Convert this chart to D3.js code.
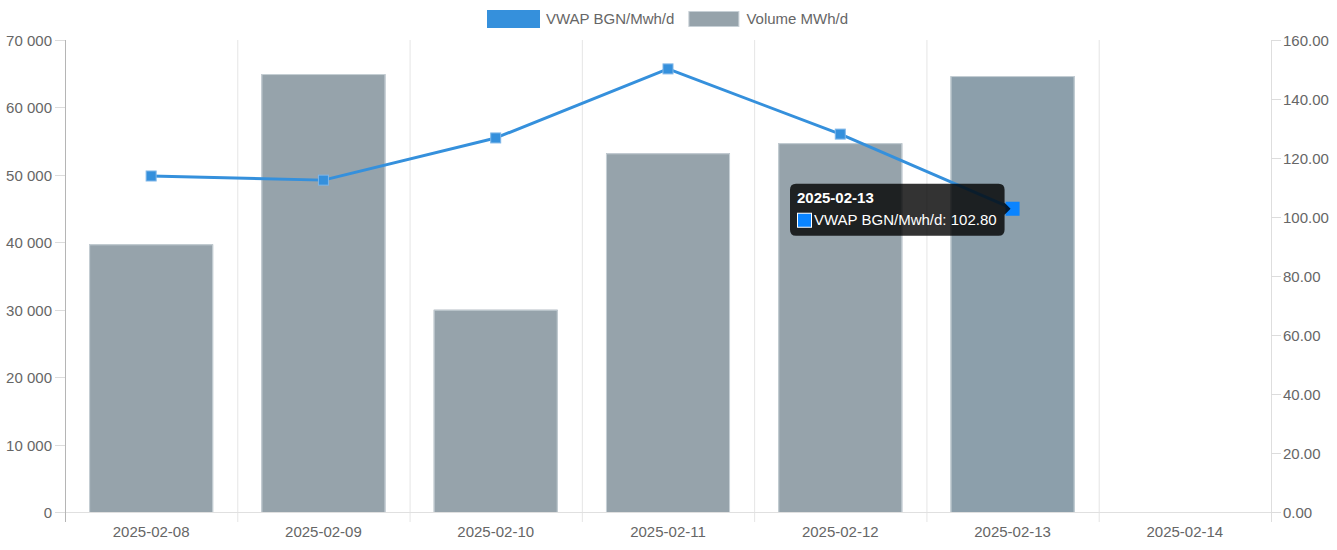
<!DOCTYPE html>
<html><head><meta charset="utf-8">
<script src="https://cdn.jsdelivr.net/npm/d3@7/dist/d3.min.js"></script>
<style>
html,body{margin:0;padding:0;background:#fff;}
svg{display:block;font-family:"Liberation Sans",Arial,Helvetica,sans-serif;}
</style></head>
<body>
<svg id="chart" width="1337" height="550"></svg>
<script>
const categories = ["2025-02-08","2025-02-09","2025-02-10","2025-02-11","2025-02-12","2025-02-13","2025-02-14"];
const volume = [39700, 64950, 30000, 53200, 54700, 64650, null];
const vwap = [113.9, 112.5, 126.8, 150.2, 128.1, 102.80, null];
const leftTicks = [0,10000,20000,30000,40000,50000,60000,70000];
const rightTicks = [0,20,40,60,80,100,120,140,160];
const seriesNames = ["VWAP BGN/Mwh/d","Volume MWh/d"];
const hoverIndex = 5;

const svg = d3.select("#chart");
const m = {l:65, r:1271, t:40, b:512};
const x = d3.scaleBand().domain(categories).range([m.l, m.r]).paddingInner(0).paddingOuter(0);
const yL = d3.scaleLinear().domain([0,70000]).range([m.b, m.t]);
const yR = d3.scaleLinear().domain([0,160]).range([m.b, m.t]);
const fmtL = v => d3.format(",")(v).replace(/,/g," ");
const fmtR = d3.format(".2f");
const textCol = "#666";
const fs = 15;

// vertical grid lines at category boundaries
const bounds = categories.map(c => x(c)).concat([m.r]);
svg.append("g").selectAll("line").data(bounds.slice(1,-1)).join("line")
  .attr("x1", d=>d+0.5).attr("x2", d=>d+0.5).attr("y1", m.t).attr("y2", m.b+10)
  .attr("stroke", "#e5e5e5").attr("stroke-width", 1);

// bottom axis line
svg.append("line").attr("x1", m.l).attr("x2", m.r).attr("y1", m.b+0.5).attr("y2", m.b+0.5)
  .attr("stroke", "#e0e0e0");

// bars
const barW = x.bandwidth()*0.72;
const barG = svg.append("g");
categories.forEach((c,i) => {
  const v = volume[i];
  if (v == null) return;
  const bx = x(c) + (x.bandwidth()-barW)/2;
  const by = yL(v);
  barG.append("rect").attr("x", bx).attr("y", by).attr("width", barW).attr("height", m.b-by)
    .attr("fill", i===hoverIndex ? "#8c9fab" : "#96a3ab");
  barG.append("path")
    .attr("d", `M${bx+0.5},${m.b}V${by+0.5}H${bx+barW-0.5}V${m.b}`)
    .attr("fill","none").attr("stroke","#c7d0d6").attr("stroke-width",1);
});

// left axis
const lax = svg.append("g");
lax.append("line").attr("x1", m.l+0.5).attr("x2", m.l+0.5).attr("y1", m.t).attr("y2", m.b+10)
  .attr("stroke", "#b5b5b5");
leftTicks.forEach(t => {
  const yy = Math.round(yL(t))+0.5;
  lax.append("line").attr("x1", m.l-10).attr("x2", m.l).attr("y1", yy).attr("y2", yy).attr("stroke","#dcdcdc");
  lax.append("text").attr("x", m.l-13).attr("y", yy).attr("dy","0.35em").attr("text-anchor","end")
    .attr("fill", textCol).attr("font-size", fs).text(fmtL(t));
});

// right axis
const rax = svg.append("g");
rax.append("line").attr("x1", m.r+0.5).attr("x2", m.r+0.5).attr("y1", m.t).attr("y2", m.b+10)
  .attr("stroke", "#dedede");
rightTicks.forEach(t => {
  const yy = Math.round(yR(t))+0.5;
  rax.append("line").attr("x1", m.r).attr("x2", m.r+10).attr("y1", yy).attr("y2", yy).attr("stroke","#dcdcdc");
  rax.append("text").attr("x", m.r+12).attr("y", yy).attr("dy","0.35em").attr("text-anchor","start")
    .attr("fill", textCol).attr("font-size", fs).text(fmtR(t));
});

// x labels
svg.append("g").selectAll("text").data(categories).join("text")
  .attr("x", d => x(d)+x.bandwidth()/2).attr("y", 532).attr("dy","0.35em")
  .attr("text-anchor","middle").attr("fill", textCol).attr("font-size", fs).text(d=>d);

// line
const pts = categories.map((c,i)=>({c, v:vwap[i], i})).filter(d=>d.v!=null);
const line = d3.line().x(d=>x(d.c)+x.bandwidth()/2).y(d=>yR(d.v));
svg.append("path").datum(pts).attr("d", line).attr("fill","none")
  .attr("stroke","#3590dc").attr("stroke-width",3).attr("stroke-linejoin","round");
svg.append("g").selectAll("rect").data(pts).join("rect")
  .attr("x", d => x(d.c)+x.bandwidth()/2 - (d.i===hoverIndex?7:5))
  .attr("y", d => yR(d.v) - (d.i===hoverIndex?7:5))
  .attr("width", d => d.i===hoverIndex?14:10).attr("height", d => d.i===hoverIndex?14:10)
  .attr("fill", d => d.i===hoverIndex ? "#0a84ff" : "#3590dc")
  .attr("stroke", d => d.i===hoverIndex ? "none" : "#7fb6e8").attr("stroke-width", 1);

// legend
const leg = svg.append("g");
const items = [
  {name: seriesNames[0], fill:"#3590dc", stroke:"#3590dc", sw:3},
  {name: seriesNames[1], fill:"#96a3ab", stroke:"#c7d0d6", sw:1}
];
let lx = 0;
const legItems = items.map(it => {
  const g = leg.append("g").attr("transform", `translate(${lx},0)`);
  g.append("rect").attr("x", 1.5).attr("y", 11.5).attr("width", 50).attr("height", 15)
    .attr("fill", it.fill).attr("stroke", it.stroke).attr("stroke-width", it.sw);
  const t = g.append("text").attr("x", 59).attr("y", 19).attr("dy","0.35em")
    .attr("fill", textCol).attr("font-size", fs).text(it.name);
  const w = 59 + t.node().getComputedTextLength();
  lx += w + 13;
  return w;
});
const totalW = lx - 13;
leg.attr("transform", `translate(${Math.round((m.l+m.r)/2 - totalW/2)},0)`);

// tooltip
const hx = x(categories[hoverIndex]) + x.bandwidth()/2;
const hy = yR(vwap[hoverIndex]);
const tip = svg.append("g");
const tipR = hx - 8, tipL = 790, tipT = hy - 25, tipB = hy + 27;
const r = 6;
tip.append("path").attr("d",
  `M${tipL+r},${tipT}H${tipR-r}Q${tipR},${tipT} ${tipR},${tipT+r}V${hy-6}L${tipR+6},${hy}L${tipR},${hy+6}V${tipB-r}Q${tipR},${tipB} ${tipR-r},${tipB}H${tipL+r}Q${tipL},${tipB} ${tipL},${tipB-r}V${tipT+r}Q${tipL},${tipT} ${tipL+r},${tipT}Z`)
  .attr("fill","rgba(0,0,0,0.8)");
tip.append("text").attr("x", tipL+7).attr("y", tipT+14).attr("dy","0.35em")
  .attr("fill","#fff").attr("font-size", fs).attr("font-weight","bold").text(categories[hoverIndex]);
tip.append("rect").attr("x", tipL+7.5).attr("y", tipT+29.5).attr("width", 14).attr("height", 14)
  .attr("fill","#0a84ff").attr("stroke","#fff").attr("stroke-width",1);
tip.append("text").attr("x", tipL+24).attr("y", tipT+36).attr("dy","0.35em")
  .attr("fill","#fff").attr("font-size", fs).text(seriesNames[0] + ": " + fmtR(vwap[hoverIndex]));
</script>
</body></html>
